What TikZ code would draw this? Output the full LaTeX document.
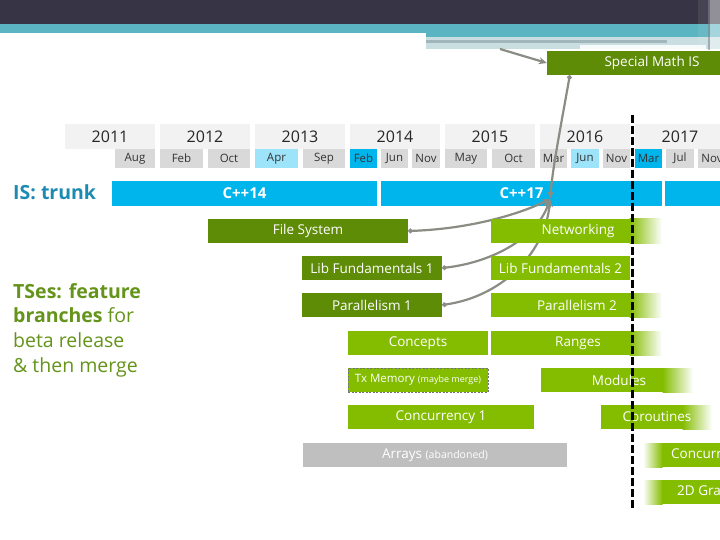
\documentclass[tikz,border=0pt]{standalone}
\usepackage{fontspec}
\setmainfont{Open Sans}
\usetikzlibrary{arrows.meta}
\definecolor{hdark}{HTML}{373445}
\definecolor{hteal}{HTML}{5AB4C1}
\definecolor{hlight}{HTML}{C8DEE1}
\definecolor{hline}{HTML}{A0B6BA}
\definecolor{hbar}{HTML}{8A8A92}
\definecolor{yearc}{HTML}{F2F2F2}
\definecolor{monc}{HTML}{D9D9D9}
\definecolor{lblue}{HTML}{9DE3FA}
\definecolor{trunkc}{HTML}{00B4EC}
\definecolor{dgreen}{HTML}{5E8C07}
\definecolor{lgreen}{HTML}{84BD00}
\definecolor{grayc}{HTML}{BFBFBF}
\definecolor{arrc}{HTML}{8A8D84}
\definecolor{istext}{HTML}{1C8BB2}
\definecolor{tstext}{HTML}{649419}
\tikzset{
  yearbox/.style={fill=yearc, minimum width=90pt, minimum height=25pt, inner sep=0pt, text=black!85, font=\fontsize{16}{18}\selectfont},
  monbox/.style={fill=monc, minimum height=19pt, inner sep=0pt, text=black!80, font=\fontsize{11.5}{13}\selectfont},
  trunkbox/.style={fill=trunkc, minimum height=25pt, inner sep=0pt, text=white, font=\bfseries\fontsize{15}{17}\selectfont},
  dbox/.style={fill=dgreen, minimum height=24pt, inner sep=0pt, text=white, font=\fontsize{13.5}{15}\selectfont},
  lbox/.style={fill=lgreen, minimum height=24pt, inner sep=0pt, text=white, font=\fontsize{13.5}{15}\selectfont},
  gbox/.style={fill=grayc, minimum height=24pt, inner sep=0pt, text=white, font=\fontsize{13.5}{15}\selectfont},
  lbl/.style={inner sep=0pt, text=white, font=\fontsize{13.5}{15}\selectfont},
  conn/.style={draw=arrc, line width=2.2pt, {Circle[length=4.5pt]}-{Stealth[length=8pt,width=7pt]}},
  plainconn/.style={draw=arrc, line width=2.2pt, -{Stealth[length=8pt,width=7pt]}},
  islbl/.style={inner sep=0pt, text=istext, font=\bfseries\fontsize{19.5}{22}\selectfont},
  tslbl/.style={inner sep=0pt, text=tstext, font=\fontsize{19.5}{22}\selectfont},
}
\begin{document}
\begin{tikzpicture}[x=1pt,y=-1pt]
\clip (0,0) rectangle (720,540);
\fill[white] (0,0) rectangle (720,540);
% header
\fill[hdark] (0,0) rectangle (720,24);
\fill[hteal] (0,24) rectangle (720,33);
\fill[hteal] (426,33) rectangle (720,37);
\fill[hlight] (426,37) rectangle (720,49);
\fill[hline] (426,40) rectangle (667,43);
\fill[white!85!hlight] (580,45) rectangle (706,49);
\fill[white, opacity=0.08] (698,0) rectangle (708,50);
\fill[hbar, opacity=0.6] (708,0) rectangle (710,50);
\fill[white, opacity=0.45] (710,0) rectangle (720,50);
% years
\node[yearbox] (y11) at (110,136.5) {2011};
\node[yearbox] (y12) at (205,136.5) {2012};
\node[yearbox] (y13) at (300,136.5) {2013};
\node[yearbox] (y14) at (395,136.5) {2014};
\node[yearbox] (y15) at (490,136.5) {2015};
\node[yearbox] (y16) at (585,136.5) {2016};
\node[yearbox] (y17) at (680,136.5) {2017};
% months
\node[monbox, minimum width=40pt] (m1) at (135,158.5) {Aug};
\node[monbox, minimum width=43pt] (m2) at (181.5,158.5) {Feb};
\node[monbox, minimum width=42pt] (m3) at (229,158.5) {Oct};
\node[monbox, minimum width=43pt, fill=lblue] (m4) at (276.5,158.5) {Apr};
\node[monbox, minimum width=42pt] (m5) at (324,158.5) {Sep};
\node[monbox, minimum width=27pt, fill=trunkc] (m6) at (363.5,158.5) {Feb};
\node[monbox, minimum width=27pt] (m7) at (394.5,158.5) {Jun};
\node[monbox, minimum width=28pt] (m8) at (426,158.5) {Nov};
\node[monbox, minimum width=42pt] (m9) at (466,158.5) {May};
\node[monbox, minimum width=43pt] (m10) at (513.5,158.5) {Oct};
\node[monbox, minimum width=27pt] (m11) at (553.5,158.5) {Mar};
\node[monbox, minimum width=28pt, fill=lblue] (m12) at (585,158.5) {Jun};
\node[monbox, minimum width=27pt] (m13) at (616.5,158.5) {Nov};
\node[monbox, minimum width=27pt, fill=trunkc] (m14) at (648.5,158.5) {Mar};
\node[monbox, minimum width=28pt] (m15) at (680,158.5) {Jul};
\node[monbox, minimum width=28pt] (m16) at (712,158.5) {Nov};
% trunk
\node[islbl, anchor=base west] (is) at (13,200) {IS: trunk};
\node[trunkbox, minimum width=265pt] (c14) at (244.5,193.5) {C++14};
\node[trunkbox, minimum width=281pt] (c17) at (521.5,193.5) {C++17};
\node[trunkbox, minimum width=55pt] (c20) at (692.5,193.5) {};
\coordinate (merge) at (550,199);
% special math IS
\node[dbox, minimum width=173pt] (sm) at (633.5,63) {};
\node[lbl] (smt) at (652,63) {Special Math IS};
\coordinate (hsrc) at (500,49);
% connectors
\draw[plainconn] (hsrc) -- (sm.west);
\draw[conn] ([xshift=23pt]sm.south west) .. controls (562,120) and (553,165) .. (merge);
% branches
\node[dbox, minimum width=200pt] (fs) at (308,231) {File System};
\node[dbox, minimum width=140pt] (lf1) at (372,268) {Lib Fundamentals 1};
\node[dbox, minimum width=140pt] (p1) at (372,305) {Parallelism 1};
\draw[conn] (fs.east) .. controls (470,229) and (520,214) .. (merge);
\draw[conn] (lf1.east) .. controls (495,262) and (538,236) .. (merge);
\draw[conn] (p1.east) .. controls (505,296) and (546,250) .. (merge);
% networking
\node[lbox, minimum width=139pt] (net) at (560.5,231) {};
\shade[left color=lgreen, right color=white] (629.5,219) rectangle (662,243);
\node[lbl] (nett) at (578,231) {Networking};
% lib fundamentals 2
\node[lbox, minimum width=139pt] (lf2) at (560.5,268) {Lib Fundamentals 2};
% parallelism 2
\node[lbox, minimum width=139pt] (p2) at (560.5,305) {};
\shade[left color=lgreen, right color=white] (629.5,293) rectangle (662,317);
\node[lbl] (p2t) at (577,305) {Parallelism 2};
% concepts, ranges
\node[lbox, minimum width=140pt] (con) at (418,343) {Concepts};
\node[lbox, minimum width=139pt] (rng) at (560.5,343) {};
\shade[left color=lgreen, right color=white] (629.5,331) rectangle (662,355);
\node[lbl] (rngt) at (578,343) {Ranges};
% tx memory, modules
\node[lbox, minimum width=140pt, draw=black!55, line width=1pt, dash pattern=on 2pt off 1.5pt] (tx) at (418,380)
  {\fontsize{11.5}{13}\selectfont Tx Memory {\fontsize{9}{10}\selectfont(maybe merge)}};
\node[lbox, minimum width=122pt] (mod) at (602,380) {};
\shade[left color=lgreen, right color=white] (662.5,368) rectangle (693,392);
\node[lbl] (modt) at (619,380) {Modules};
% concurrency 1, coroutines
\node[lbox, minimum width=186pt] (cc1) at (441,417) {Concurrency 1};
\node[lbox, minimum width=82pt] (cor) at (642,417) {};
\shade[left color=lgreen, right color=white] (682.5,405) rectangle (712,429);
\node[lbl] (cort) at (657,417) {Coroutines};
% arrays, concurrency 2
\node[gbox, minimum width=264pt] (arr) at (435,455) {Arrays {\fontsize{10.5}{12}\selectfont(abandoned)}};
\shade[left color=white, right color=lgreen] (643,443) rectangle (662.5,467);
\node[lbox, minimum width=58pt] (cc2) at (691,455) {};
\node[lbl, anchor=west] (cc2t) at (671,455) {Concurrency 2};
% 2D graphics
\shade[left color=white, right color=lgreen] (643,480) rectangle (662.5,504);
\node[lbox, minimum width=58pt] (gfx) at (691,492) {};
\node[lbl, anchor=west] (gfxt) at (677,492) {2D Graphics};
% left texts
\node[tslbl, anchor=base west] (ts1) at (13,298) {\textbf{TSes: feature}};
\node[tslbl, anchor=base west] (ts2) at (13,322) {\textbf{branches} for};
\node[tslbl, anchor=base west] (ts3) at (13,347) {beta release};
\node[tslbl, anchor=base west] (ts4) at (13,372) {\& then merge};
% today line
\coordinate (dtop) at (632,115);
\coordinate (dbot) at (632,510);
\draw[line width=3pt, dash pattern=on 8pt off 3pt] (dtop) -- (dbot);
\end{tikzpicture}
\end{document}
